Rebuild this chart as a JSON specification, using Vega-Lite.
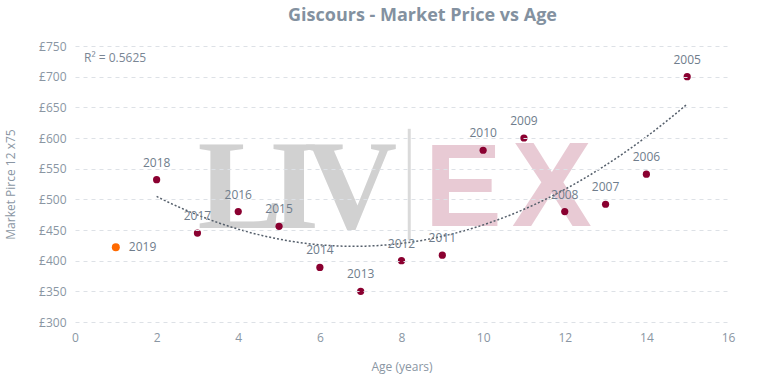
{
  "$schema": "https://vega.github.io/schema/vega-lite/v6.json",
  "width": 653,
  "height": 276,
  "autosize": {"type": "none"},
  "padding": {"left": 75, "top": 46, "right": 31, "bottom": 56},
  "background": "white",
  "title": {
    "text": "Giscours - Market Price vs Age",
    "font": "Open Sans",
    "fontSize": 18,
    "fontWeight": "bold",
    "color": "#8391a0",
    "anchor": "middle",
    "dx": 21,
    "offset": 15
  },
  "config": {
    "view": {"stroke": null},
    "font": "Open Sans",
    "axis": {
      "labelColor": "#8a96a3",
      "titleColor": "#8a96a3",
      "labelFont": "Open Sans",
      "titleFont": "Open Sans",
      "labelFontSize": 12,
      "titleFontSize": 12,
      "titleFontWeight": "normal",
      "labelFlush": false
    }
  },
  "data": {
    "values": [
      {"vintage": "2019", "age": 1, "price": 422, "type": "current"},
      {"vintage": "2018", "age": 2, "price": 532, "type": "past"},
      {"vintage": "2017", "age": 3, "price": 445, "type": "past"},
      {"vintage": "2016", "age": 4, "price": 480, "type": "past"},
      {"vintage": "2015", "age": 5, "price": 456, "type": "past"},
      {"vintage": "2014", "age": 6, "price": 389, "type": "past"},
      {"vintage": "2013", "age": 7, "price": 350, "type": "past"},
      {"vintage": "2012", "age": 8, "price": 400, "type": "past"},
      {"vintage": "2011", "age": 9, "price": 409, "type": "past"},
      {"vintage": "2010", "age": 10, "price": 580, "type": "past"},
      {"vintage": "2009", "age": 11, "price": 600, "type": "past"},
      {"vintage": "2008", "age": 12, "price": 480, "type": "past"},
      {"vintage": "2007", "age": 13, "price": 492, "type": "past"},
      {"vintage": "2006", "age": 14, "price": 541, "type": "past"},
      {"vintage": "2005", "age": 15, "price": 700, "type": "past"}
    ]
  },
  "encoding": {
    "x": {
      "field": "age",
      "type": "quantitative",
      "scale": {"domain": [0, 16], "nice": false},
      "axis": {
        "title": "Age (years)",
        "values": [0, 2, 4, 6, 8, 10, 12, 14, 16],
        "grid": false,
        "domain": false,
        "ticks": false,
        "labelPadding": 10,
        "titlePadding": 18
      }
    },
    "y": {
      "field": "price",
      "type": "quantitative",
      "scale": {"domain": [300, 750], "nice": false, "zero": false},
      "axis": {
        "title": "Market Pirce 12 x75",
        "values": [300, 350, 400, 450, 500, 550, 600, 650, 700, 750],
        "labelExpr": "'£' + datum.value",
        "grid": true,
        "gridColor": "#dde1e6",
        "gridDash": [4, 4],
        "domain": false,
        "ticks": false,
        "labelPadding": 9,
        "titlePadding": 21,
        "zindex": 1
      }
    }
  },
  "layer": [
    {
      "transform": [{"filter": "datum.vintage == '2019'"}],
      "mark": {"type": "text", "text": "L", "font": "Liberation Serif", "fontWeight": "bold", "fontSize": 128, "color": "#d1d1d1", "align": "center", "baseline": "alphabetic"},
      "encoding": {"x": {"datum": 4.05}, "y": {"datum": 453}}
    },
    {
      "transform": [{"filter": "datum.vintage == '2019'"}],
      "mark": {"type": "text", "text": "I", "font": "Liberation Serif", "fontWeight": "bold", "fontSize": 128, "color": "#d1d1d1", "align": "center", "baseline": "alphabetic"},
      "encoding": {"x": {"datum": 5.37}, "y": {"datum": 453}}
    },
    {
      "transform": [{"filter": "datum.vintage == '2019'"}],
      "mark": {"type": "text", "text": "V", "font": "Liberation Serif", "fontWeight": "bold", "fontSize": 128, "color": "#d1d1d1", "align": "center", "baseline": "alphabetic"},
      "encoding": {"x": {"datum": 6.76}, "y": {"datum": 453}}
    },
    {
      "transform": [{"filter": "datum.vintage == '2019'"}],
      "mark": {"type": "rule", "color": "#dadada", "strokeWidth": 3},
      "encoding": {"x": {"datum": 8.19}, "y": {"datum": 615}, "y2": {"datum": 434}}
    },
    {
      "transform": [{"filter": "datum.vintage == '2019'"}],
      "mark": {"type": "text", "text": "E", "font": "Liberation Sans", "fontWeight": "bold", "fontSize": 116, "color": "#e8cad4", "align": "center", "baseline": "alphabetic"},
      "encoding": {"x": {"datum": 9.51}, "y": {"datum": 456.5}}
    },
    {
      "transform": [{"filter": "datum.vintage == '2019'"}],
      "mark": {"type": "text", "text": "X", "font": "Liberation Sans", "fontWeight": "bold", "fontSize": 120, "color": "#e8cad4", "align": "center", "baseline": "alphabetic"},
      "encoding": {"x": {"datum": 11.68}, "y": {"datum": 456.5}}
    },
    {
      "transform": [
        {"filter": "datum.type == 'past'"},
        {"regression": "price", "on": "age", "method": "poly", "order": 2}
      ],
      "mark": {"type": "line", "color": "#555f6b", "strokeDash": [2, 2], "strokeWidth": 1.5, "interpolate": "monotone"},
      "encoding": {}
    },
    {
      "mark": {"type": "circle", "opacity": 1},
      "encoding": {
        "color": {
          "field": "type",
          "type": "nominal",
          "scale": {"domain": ["current", "past"], "range": ["#ff6a00", "#8a0030"]},
          "legend": null
        },
        "size": {
          "field": "type",
          "type": "nominal",
          "scale": {"domain": ["current", "past"], "range": [64, 52]},
          "legend": null
        }
      }
    },
    {
      "transform": [{"filter": "datum.type == 'past'"}],
      "mark": {"type": "text", "dy": -17, "fontSize": 12, "color": "#6f7d8c", "font": "Open Sans"},
      "encoding": {"text": {"field": "vintage"}}
    },
    {
      "transform": [{"filter": "datum.type == 'current'"}],
      "mark": {"type": "text", "dx": 13, "align": "left", "fontSize": 12, "color": "#6f7d8c", "font": "Open Sans"},
      "encoding": {"text": {"field": "vintage"}}
    },
    {
      "transform": [{"filter": "datum.vintage == '2019'"}],
      "mark": {"type": "text", "text": "R² = 0.5625", "align": "left", "baseline": "middle", "fontSize": 12, "color": "#7a8694", "font": "Open Sans"},
      "encoding": {"x": {"datum": 0.22}, "y": {"datum": 730}}
    }
  ]
}
